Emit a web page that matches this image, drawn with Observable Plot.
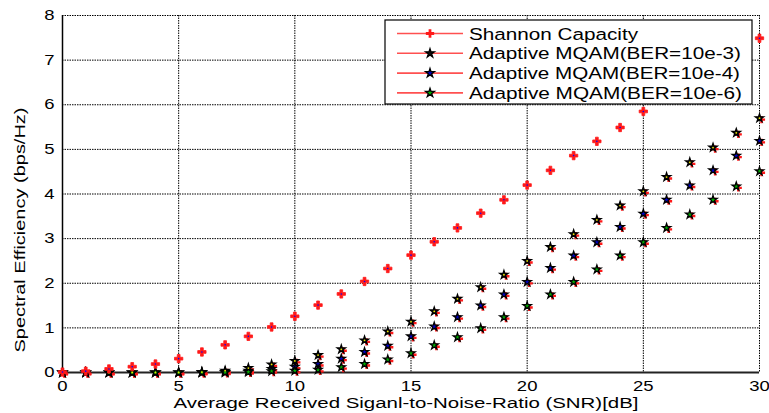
<!DOCTYPE html>
<html>
<head>
<meta charset="utf-8">
<script src="https://cdn.jsdelivr.net/npm/d3@7"></script>
<script src="https://cdn.jsdelivr.net/npm/@observablehq/plot@0.6"></script>
<style>
  html, body { margin: 0; padding: 0; background: white; }
  #chart { width: 769px; height: 413px; }
</style>
</head>
<body>
<div id="chart"></div>
<script>
const snr = d3.range(0, 31);
const shannon = [0.01,0.03,0.08,0.13,0.19,0.31,0.46,0.62,0.81,1.02,1.26,1.51,1.76,2.04,2.33,2.63,2.93,3.24,3.57,3.87,4.20,4.53,4.86,5.18,5.49,5.85,6.17,6.50,6.82,7.15,7.49];
const ber3 = [0,0,0,0,0,0,0.01,0.04,0.10,0.18,0.26,0.39,0.52,0.72,0.92,1.14,1.37,1.65,1.91,2.19,2.50,2.81,3.10,3.42,3.74,4.06,4.38,4.71,5.04,5.37,5.70];
const ber4 = [0,0,0,0,0,0,0,0.01,0.04,0.08,0.13,0.19,0.31,0.46,0.60,0.81,1.03,1.24,1.50,1.75,2.03,2.34,2.62,2.92,3.26,3.56,3.87,4.19,4.53,4.86,5.19];
const ber6 = [0,0,0,0,0,0,0,0,0.01,0.03,0.04,0.06,0.12,0.19,0.29,0.43,0.61,0.79,0.99,1.24,1.49,1.75,2.03,2.31,2.62,2.92,3.24,3.54,3.87,4.17,4.51];
const seriesNames = ["Shannon Capacity","Adaptive MQAM(BER=10e-3)","Adaptive MQAM(BER=10e-4)","Adaptive MQAM(BER=10e-6)"];
const starFills = ["#111111","#0000cc","#00b000"];
const xTicks = [0,5,10,15,20,25,30];
const yTicks = [0,1,2,3,4,5,6,7,8];
const xLabel = "Average Received Siganl-to-Noise-Ratio (SNR)[dB]";
const yLabel = "Spectral Efficiency (bps/Hz)";

const shan = snr.map((x,i)=>({x, y: shannon[i]}));
const mq = [ber3, ber4, ber6].map((arr, k) => snr.map((x,i)=>({x, y: arr[i], k})));
const mqAll = mq.flat();

const grid = {stroke:"black", strokeOpacity:1, strokeWidth:1, strokeDasharray:"1.5,1"};

const chart = Plot.plot({
  width: 769, height: 413,
  marginLeft: 62, marginRight: 10, marginTop: 15, marginBottom: 41,
  style: {fontFamily: "'Liberation Sans', Arial, sans-serif", fontSize: "14px", color: "black", background: "white", overflow: "visible"},
  x: {domain: [0,30]},
  y: {domain: [0,8]},
  marks: [
    Plot.ruleX(xTicks.slice(1), grid),
    Plot.ruleY(yTicks.slice(1), grid),
    Plot.axisX(xTicks, {tickSize: 0, tickPadding: 8, label: null, fontSize: 14.5}),
    Plot.axisY(yTicks, {tickSize: 0, tickPadding: 8, label: null, fontSize: 14.5}),
    Plot.ruleX([0], {stroke:"black", strokeWidth: 1.5}),
    Plot.ruleY([0], {stroke:"#222", strokeWidth: 1.8}),
    Plot.dot(mqAll, {x:"x", y:"y", symbol:"cross", r: 3, fill:"#ff1a1a", stroke:"none", dx: 2, dy: 1.5}),
    ...mq.map((d,k) => Plot.dot(d, {x:"x", y:"y", symbol:"star", r: 2.6, fill: starFills[k], stroke:"black", strokeWidth: 1.3})),
    Plot.dot(mq[0], {x:"x", y:"y", r: 0.9, fill:"#e6e600", stroke:"none"}),
    Plot.dot(shan, {x:"x", y:"y", symbol:"cross", r: 3.5, fill:"#ff1a1a", stroke:"#ff1a1a", strokeWidth: 0.8}),
    Plot.dot(shan, {x:"x", y:"y", r: 0.8, fill:"#0000ff", stroke:"none"})
  ]
});
document.getElementById("chart").appendChild(chart);

const svg = d3.select(chart);
// widen tick labels like the reference (only tick labels exist as text at this point)
svg.selectAll("text").each(function() {
  const t = d3.select(this);
  const n = t.text().trim().length;
  if (n > 0) t.attr("textLength", 10.3 * n).attr("lengthAdjust", "spacingAndGlyphs");
});

const font = "'Liberation Sans', Arial, sans-serif";
svg.append("text").text(xLabel)
  .attr("x", 406).attr("y", 408).attr("text-anchor","middle")
  .attr("font-family", font).attr("font-size", 14.7)
  .attr("textLength", 465).attr("lengthAdjust","spacingAndGlyphs");
svg.append("text").text(yLabel)
  .attr("transform","translate(25,230) rotate(-90)").attr("text-anchor","middle")
  .attr("font-family", font).attr("font-size", 15)
  .attr("textLength", 245).attr("lengthAdjust","spacingAndGlyphs");

const lg = svg.append("g").attr("transform","translate(385,20)");
lg.append("rect").attr("x",0).attr("y",0).attr("width",367).attr("height",84)
  .attr("fill","white").attr("stroke","black").attr("stroke-width",1.2);
const lens = [169, 272, 271, 273];
seriesNames.forEach((name, i) => {
  const cy = 13.5 + i*19.8;
  const row = lg.append("g");
  row.append("line").attr("x1",12).attr("x2",78).attr("y1",cy).attr("y2",cy)
    .attr("stroke","#ff5050").attr("stroke-width",1.6);
  if (i === 0) {
    row.append("path").attr("d", d3.symbol(d3.symbolCross, 38)()).attr("transform",`translate(45,${cy})`).attr("fill","#ff1a1a");
  } else {
    row.append("path").attr("d", d3.symbol(d3.symbolStar, 24)()).attr("transform",`translate(45,${cy})`)
      .attr("fill", starFills[i-1]).attr("stroke","black").attr("stroke-width",1.3);
  }
  row.append("text").text(name).attr("x",84).attr("y",cy+6).attr("text-anchor","start")
    .attr("font-family", font).attr("font-size", 16.3)
    .attr("textLength", lens[i]).attr("lengthAdjust","spacingAndGlyphs");
});
</script>
</body>
</html>
